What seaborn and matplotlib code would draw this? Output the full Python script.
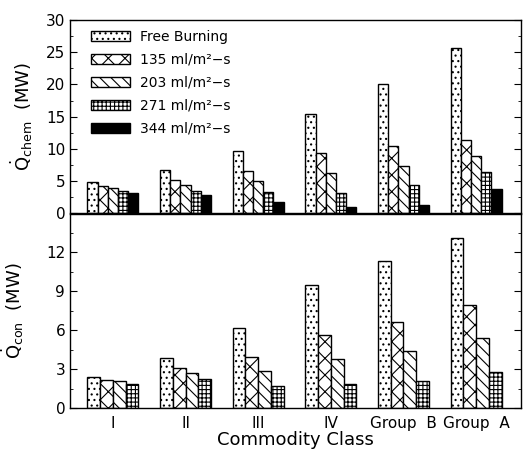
import seaborn as sns
import pandas as pd
import numpy as np
import matplotlib.pyplot as plt
from matplotlib.ticker import MultipleLocator

classes = ["I", "II", "III", "IV", "Group  B", "Group  A"]
series = ["Free Burning", "135 ml/m²−s", "203 ml/m²−s", "271 ml/m²−s", "344 ml/m²−s"]

# Q_chem (MW), one list per sprinkler condition
chem_free = [4.9, 6.7, 9.7, 15.5, 20.0, 25.7]
chem_135 = [4.3, 5.2, 6.6, 9.3, 10.4, 11.4]
chem_203 = [3.9, 4.4, 5.0, 6.2, 7.4, 8.9]
chem_271 = [3.5, 3.5, 3.4, 3.1, 4.4, 6.4]
chem_344 = [3.1, 2.85, 1.8, 1.0, 1.35, 3.8]

# Q_con (MW)
con_free = [2.4, 3.85, 6.2, 9.5, 11.3, 13.1]
con_135 = [2.15, 3.1, 3.95, 5.65, 6.65, 7.95]
con_203 = [2.05, 2.7, 2.85, 3.75, 4.4, 5.4]
con_271 = [1.85, 2.25, 1.7, 1.85, 2.1, 2.8]

chem_ticks = [0, 5, 10, 15, 20, 25, 30]
con_ticks = [0, 3, 6, 9, 12]

hatches = ["...", "xx", "\\\\\\", "++++", None]
faces = ["white", "white", "white", "white", "black"]

plt.rcParams["hatch.linewidth"] = 0.8
plt.rcParams["font.family"] = ["DejaVu Sans"]


def long_df(cols):
    rows = []
    for name, vals in zip(series, cols):
        for c, v in zip(classes, vals):
            rows.append({"cls": c, "cond": name, "val": v})
    return pd.DataFrame(rows)


fig = plt.figure(figsize=(5.24, 4.5), dpi=100)
ax1 = fig.add_axes([0.1336, 0.5256, 0.861, 0.43])
ax2 = fig.add_axes([0.1336, 0.0933, 0.861, 0.4322])

chem = long_df([chem_free, chem_135, chem_203, chem_271, chem_344])
con = long_df([con_free, con_135, con_203, con_271])

for ax, df, n in [(ax1, chem, 5), (ax2, con, 4)]:
    sns.barplot(data=df, x="cls", y="val", hue="cond", order=classes,
                hue_order=series[:n], palette=faces[:n], width=0.7,
                edgecolor="black", linewidth=1.0, saturation=1, ax=ax,
                legend=False)
    for cont, h in zip(ax.containers, hatches):
        for p in cont:
            p.set_hatch(h)
            p.set_edgecolor("black")
    ax.set_xlim(-0.59, 5.62)
    ax.tick_params(axis="y", which="both", direction="in", right=True,
                   labelsize=11)
    ax.tick_params(axis="y", which="major", length=5)
    ax.tick_params(axis="y", which="minor", length=2.5)
    ax.tick_params(axis="x", length=0, labelsize=11, pad=6)
    for s in ax.spines.values():
        s.set_color("black")
        s.set_linewidth(1.0)

ax1.set_ylim(0, 30)
ax1.set_yticks(chem_ticks)
ax1.yaxis.set_minor_locator(MultipleLocator(2.5))
ax1.set_xticklabels([])
ax1.set_xlabel("")
ax1.set_ylabel(r"$\dot{\rm Q}_{\rm chem}$  (MW)", fontsize=13, labelpad=8)

ax2.set_ylim(0, 15)
ax2.set_yticks(con_ticks)
ax2.yaxis.set_minor_locator(MultipleLocator(1.5))
ax2.set_xlabel("Commodity Class", fontsize=13, labelpad=0)
ax2.set_ylabel(r"$\dot{\rm Q}_{\rm con}$  (MW)", fontsize=13, labelpad=14)

ax1.legend(handles=ax1.containers, labels=series, loc="upper left",
           bbox_to_anchor=(0.025, 1.0), frameon=False, fontsize=10,
           handlelength=2.8, handleheight=0.8, labelspacing=0.65,
           handletextpad=0.7, borderaxespad=0.3)

fig.savefig("out.png", dpi=100)
